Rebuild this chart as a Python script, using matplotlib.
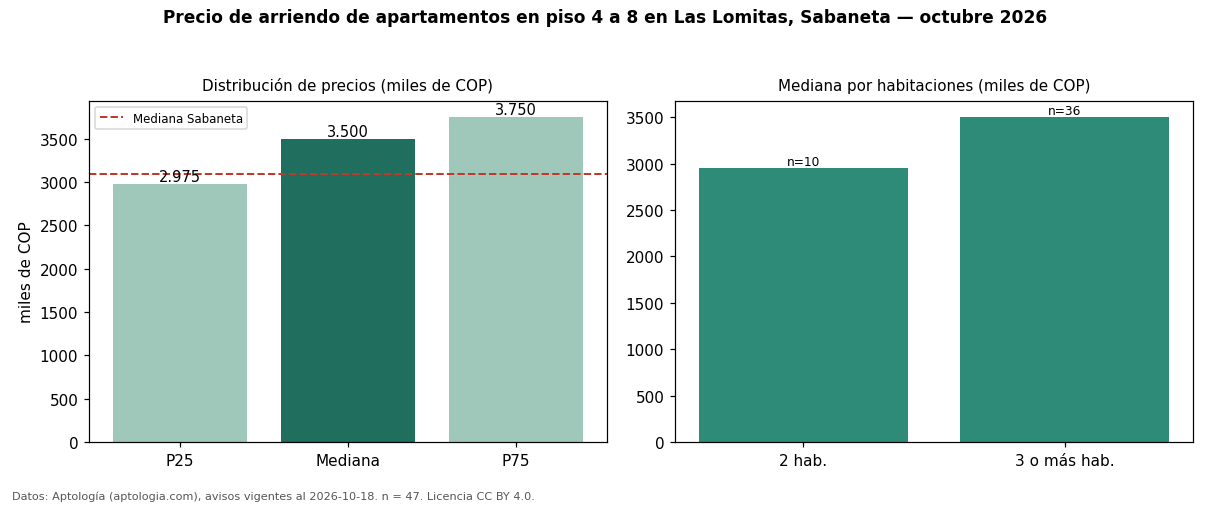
import matplotlib
matplotlib.use("Agg")
import matplotlib.pyplot as plt

# Data
stat_labels = ["P25", "Mediana", "P75"]
stat_values = [2975, 3500, 3750]
median_sabaneta = 3100

room_labels = ["2 hab.", "3 o más hab."]
room_values = [2950, 3500]
room_counts = [10, 36]

LIGHT = "#9fc8bb"
DARK = "#1f6e5e"
MID = "#2e8b77"
RED = "#c0392b"

fig = plt.figure(figsize=(11, 4.6), dpi=110)
ax1 = fig.add_axes([89 / 1210, 1 - 443 / 506, 518 / 1210, 341 / 506])
ax2 = fig.add_axes([675 / 1210, 1 - 443 / 506, 518 / 1210, 341 / 506])

fig.suptitle("Precio de arriendo de apartamentos en piso 4 a 8 en Las Lomitas, Sabaneta — octubre 2026",
             fontsize=11.1, fontweight="bold", y=0.982)


def fmt(v):
    return f"{v:,.0f}".replace(",", ".")


# ---------- Left: distribution ----------
colors = [LIGHT, DARK, LIGHT]
bars = ax1.bar(range(len(stat_values)), stat_values, width=0.8, color=colors)
ax1.set_ylim(0, max(stat_values) * 1.05)
ax1.set_xticks(range(len(stat_labels)))
ax1.set_xticklabels(stat_labels)
for b, v in zip(bars, stat_values):
    ax1.text(b.get_x() + b.get_width() / 2, v, fmt(v), ha="center", va="bottom", fontsize=9.6)
ax1.axhline(median_sabaneta, color=RED, linestyle="--", linewidth=1.3, label="Mediana Sabaneta")
ax1.legend(loc="upper left", fontsize=7.7)
ax1.set_ylabel("miles de COP", fontsize=10)
ax1.set_title("Distribución de precios (miles de COP)", fontsize=9.9, pad=7)
ax1.tick_params(labelsize=10)

# ---------- Right: by rooms ----------
bars2 = ax2.bar(range(len(room_values)), room_values, width=0.8, color=MID)
ax2.set_ylim(0, max(room_values) * 1.05)
ax2.set_xticks(range(len(room_labels)))
ax2.set_xticklabels(room_labels)
for b, v, n in zip(bars2, room_values, room_counts):
    ax2.text(b.get_x() + b.get_width() / 2, v, f"n={n}", ha="center", va="bottom", fontsize=8)
ax2.set_title("Mediana por habitaciones (miles de COP)", fontsize=9.9, pad=7)
ax2.tick_params(labelsize=10)

fig.text(12 / 1210, 1 - 497 / 506, "Datos: Aptología (aptologia.com), avisos vigentes al 2026-10-18. n = 47. Licencia CC BY 4.0.",
         fontsize=7.4, color="#555555", va="center")

fig.savefig("out.png", dpi=110)
